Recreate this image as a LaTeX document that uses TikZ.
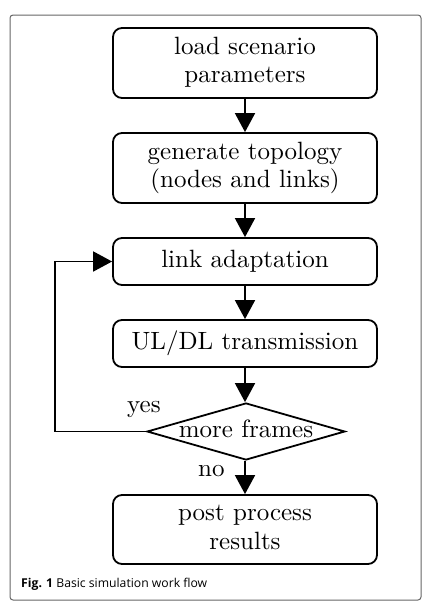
\documentclass[tikz,border=0pt]{standalone}
\usepackage{fontspec}
\newfontfamily\capfont{Open Sans}
\usetikzlibrary{shapes.geometric,arrows.meta}
\newcommand{\bigtxt}[1]{\scalebox{2.5}{\renewcommand\arraystretch{0.95}\begin{tabular}{@{}c@{}}#1\end{tabular}}}
\begin{document}
\begin{tikzpicture}[x=1pt,y=1pt,
  box/.style={draw, line width=1.8pt, rounded corners=9pt, minimum width=264pt, inner sep=0pt},
  flow/.style={line width=1.8pt, -{Triangle[width=20pt,length=19pt]}},
  lbl/.style={inner sep=0pt, anchor=base west}]
\useasboundingbox (0,0) rectangle (430,-611);
\draw[gray!80!black, line width=1pt, rounded corners=3pt] (10,-15) rectangle (421,-600);
\node[box, minimum height=70pt] (b1) at (245,-63) {\bigtxt{load scenario\\parameters}};
\node[box, minimum height=70pt] (b2) at (245,-168) {\bigtxt{generate topology\\(nodes and links)}};
\node[box, minimum height=47pt] (b3) at (245,-261.5) {\bigtxt{link adaptation}};
\node[box, minimum height=47pt] (b4) at (245,-343.5) {\bigtxt{UL/DL transmission}};
\node[draw, diamond, line width=1.8pt, aspect=3.47, inner sep=0pt, minimum width=198pt, minimum height=57pt,
  label={[inner sep=0pt]center:\bigtxt{more frames}}] (d) at (246,-431.5) {};
\node[box, minimum height=69pt] (b5) at (245,-529.5) {\bigtxt{post process\\results}};
\coordinate (c1) at (55,-431.5);
\draw[flow] (b1) -- (b2);
\draw[flow] (b2) -- (b3);
\draw[flow] (b3) -- (b4);
\draw[flow] (b4.south) -- (b4.south |- d.north);
\draw[flow] (b4.south |- d.south) -- (b5.north);
\draw[flow] (d.west) -- (c1) |- (b3.west);
\node[lbl] (yes) at (127,-412) {\scalebox{2.5}{yes}};
\node[lbl] (no) at (198,-476) {\scalebox{2.5}{no}};
\node[lbl] (cap) at (21,-587) {\capfont\fontsize{12.2}{14}\selectfont\textbf{Fig. 1} Basic simulation work flow};
\end{tikzpicture}
\end{document}
